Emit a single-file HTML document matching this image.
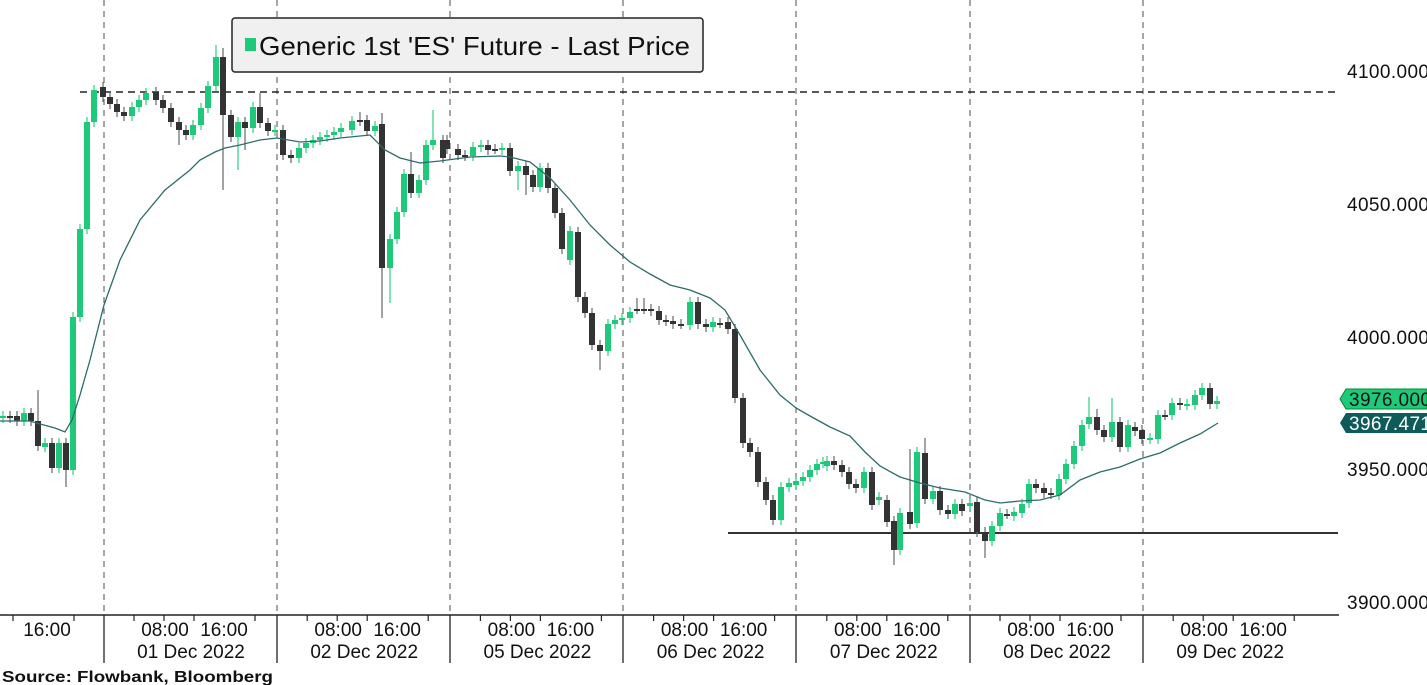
<!DOCTYPE html>
<html><head><meta charset="utf-8"><style>
html,body{margin:0;padding:0;background:#fff;}
svg{display:block;font-family:"Liberation Sans","DejaVu Sans",sans-serif;}
</style></head><body>
<svg id="s" width="1427" height="685" viewBox="0 0 1427 685" xmlns="http://www.w3.org/2000/svg">
<rect width="1427" height="685" fill="#fff"/>
<g stroke="#777" stroke-width="1.3" stroke-dasharray="6,5">
<line x1="104" y1="0" x2="104" y2="615"/><line x1="277" y1="0" x2="277" y2="615"/><line x1="450" y1="0" x2="450" y2="615"/><line x1="623" y1="0" x2="623" y2="615"/><line x1="796" y1="0" x2="796" y2="615"/><line x1="970" y1="0" x2="970" y2="615"/><line x1="1143" y1="0" x2="1143" y2="615"/>
</g>
<line x1="80" y1="92" x2="1338" y2="92" stroke="#222" stroke-width="1.5" stroke-dasharray="7,5"/>
<line x1="728" y1="533" x2="1338" y2="533" stroke="#333" stroke-width="2"/>
<g id="c"></g>
<polyline id="ma" fill="none" stroke="#2e6b6b" stroke-width="1.3"/>
<rect x="232" y="18" width="471" height="54" rx="3" fill="#f0f0f0" stroke="#222" stroke-width="1.5"/>
<rect x="245" y="38" width="11" height="13" fill="#1ec97a"/>
<text x="259" y="55" font-size="26" fill="#111" textLength="431" lengthAdjust="spacingAndGlyphs">Generic 1st 'ES' Future - Last Price</text>
<g font-size="19" fill="#111">
<text x="1347" y="78" textLength="82">4100.000</text><text x="1347" y="211" textLength="82">4050.000</text><text x="1347" y="344" textLength="82">4000.000</text><text x="1347" y="476" textLength="82">3950.000</text><text x="1347" y="609" textLength="82">3900.000</text>
</g>
<polygon points="1340,399 1346,389 1427,389 1427,409 1346,409" fill="#1ec97a" stroke="#083" stroke-width="1"/>
<text x="1349" y="406" font-size="19" fill="#111" textLength="82">3976.000</text>
<polygon points="1340,423 1346,413 1427,413 1427,433 1346,433" fill="#0f5a5a"/>
<text x="1349" y="430" font-size="19" fill="#fff" textLength="82">3967.471</text>
<line x1="0" y1="615" x2="1339" y2="615" stroke="#222" stroke-width="1.5"/>
<g stroke="#222" stroke-width="1.3">
<line x1="104" y1="615" x2="104" y2="663"/><line x1="277" y1="615" x2="277" y2="663"/><line x1="450" y1="615" x2="450" y2="663"/><line x1="623" y1="615" x2="623" y2="663"/><line x1="796" y1="615" x2="796" y2="663"/><line x1="970" y1="615" x2="970" y2="663"/><line x1="1143" y1="615" x2="1143" y2="663"/>
</g>
<g id="tk" stroke="#222" stroke-width="1.2"></g>
<g font-size="19" fill="#111" text-anchor="middle" id="xl"></g>
<text x="2" y="682" font-size="16" font-weight="bold" fill="#111" textLength="271" lengthAdjust="spacingAndGlyphs">Source: Flowbank, Bloomberg</text>
</svg>
<script>
var G='#1ec97a',D='#333';
var d=[[3,418,416],[10,416,418],[17,416,421],[24,421,413],[31,413,421],[38,421,446,390],[45,447,443],[52,443,468],[59,468,443],[66,443,470,0,487],[73,470,317],[80,317,229],[87,229,122],[94,122,90],[103,87,97],[110,97,104],[117,104,112],[124,112,116],[132,116,107],[139,107,100],[146,100,93],[156,92,100],[163,100,108],[171,108,122],[179,122,130,0,145],[186,130,135],[193,135,125],[201,125,108],[208,108,86],[216,86,57,45],[223,57,115,48,190],[231,115,137],[238,137,122,0,170],[245,122,128,0,150],[253,128,107],[260,107,123,93],[268,123,131],[275,131,130],[283,130,155],[291,155,158],[299,158,148],[306,148,143],[313,143,140],[320,140,137],[327,137,135],[334,135,132],[341,132,128],[352,130,121],[360,120,121,112],[367,120,131],[375,131,126],[382,124,268,113,318],[390,268,239,0,303],[397,239,212],[404,212,174],[411,174,193,152],[419,193,180],[426,180,145],[433,145,140,110],[443,140,158],[447,140,149],[458,149,155],[465,155,156],[473,156,147],[481,147,145],[488,145,150],[495,149,149],[502,150,148],[510,148,171],[518,171,166,0,190],[526,166,175,0,195],[533,175,187],[540,187,168],[548,168,188],[555,188,213],[562,213,249],[570,260,231],[578,232,297],[585,297,313],[592,313,345],[600,345,351,0,370],[608,351,324],[615,324,320],[622,320,318],[630,318,312],[637,309,309,298],[644,309,309,298],[651,309,311],[659,311,320],[666,320,321],[673,321,324],[681,324,324],[690,325,302],[698,302,324],[706,324,327],[713,327,322],[720,323,323],[728,322,329],[735,329,398],[743,398,443],[750,443,452],[758,452,482],[766,482,500],[773,500,520],[781,520,487],[789,487,483],[796,485,481],[803,481,477],[810,477,470],[817,470,464],[823,463,462],[827,466,461],[834,461,465],[842,465,472],[849,472,484],[856,484,488],[864,488,472],[872,472,505],[879,500,497],[887,500,522],[894,521,550,0,565],[900,550,513],[910,512,524,449],[917,523,452],[925,453,499,438],[933,499,491],[940,491,510],[948,510,514],[955,514,504],[962,504,511],[970,506,503],[977,502,532],[985,532,541,0,558],[992,541,526],[1000,526,513],[1007,514,514],[1014,516,512],[1022,513,504],[1029,503,484],[1036,484,488],[1044,488,493],[1051,493,494],[1059,495,479],[1066,479,464],[1074,464,446],[1082,446,425],[1089,424,417,397],[1097,417,430,409],[1104,430,437],[1112,437,422,398],[1120,422,447],[1128,447,425],[1135,427,431],[1142,430,439],[1150,439,438],[1158,439,415],[1165,415,415],[1172,415,403],[1180,403,405],[1187,405,404],[1195,405,395],[1202,395,388,383],[1210,388,404],[1217,404,401]];
var h='';
d.forEach(function(k){var x=k[0],o=k[1],c=k[2];var col=c<o?G:D;var t=Math.min(o,c),b=Math.max(o,c);var hi=k[3]||t-5,lo=k[4]||b+5;
h+='<line x1="'+x+'" y1="'+hi+'" x2="'+x+'" y2="'+lo+'" stroke="'+(col==G?'#2fcf84':'#666')+'" stroke-width="1.2"/>';
h+='<rect x="'+(x-3)+'" y="'+t+'" width="6" height="'+Math.max(b-t,2)+'" fill="'+col+'"/>';});
document.getElementById('c').innerHTML=h;
document.getElementById('ma').setAttribute('points','0,421 30,421 40,424 55,428 65,432 72,420 80,395 90,360 104,305 120,260 140,220 165,190 190,170 200,160 215,152 225,148 240,145 260,140 277,138 300,142 320,141 340,138 370,135 385,150 400,158 420,163 440,161 470,157 500,156 510,157 530,162 550,178 570,200 590,225 610,245 630,262 650,274 670,285 690,290 710,298 725,310 740,335 760,370 780,395 796,408 810,416 830,427 850,436 865,452 880,466 900,477 920,483 940,488 965,492 985,500 1000,503 1020,501 1040,500 1060,495 1080,480 1100,472 1120,467 1140,459 1160,453 1180,443 1200,434 1218,423');
var xl='<text x="47" y="636">16:00</text>',tk='';
var dates=['01 Dec 2022','02 Dec 2022','05 Dec 2022','06 Dec 2022','07 Dec 2022','08 Dec 2022','09 Dec 2022'];
for(var i=0;i<7;i++){var b=104+173.2*i;xl+='<text x="'+(b+61)+'" y="636">08:00</text><text x="'+(b+120)+'" y="636">16:00</text><text x="'+(b+87)+'" y="658">'+dates[i]+'</text>';
[30,60,90,151].forEach(function(o){tk+='<line x1="'+(b+o)+'" y1="615" x2="'+(b+o)+'" y2="621"/>';});}
tk+='<line x1="13" y1="615" x2="13" y2="621"/><line x1="74" y1="615" x2="74" y2="621"/>';
document.getElementById('xl').innerHTML=xl;document.getElementById('tk').innerHTML=tk;
</script>
</body></html>
